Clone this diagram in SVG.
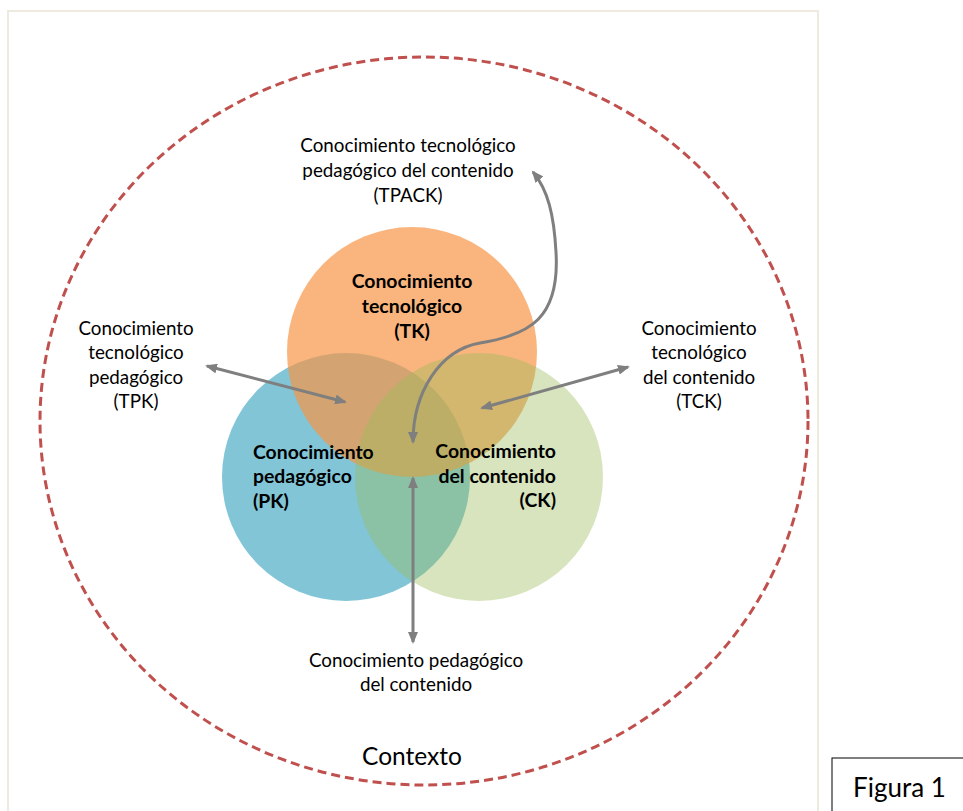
<svg xmlns="http://www.w3.org/2000/svg" width="963" height="811" viewBox="0 0 963 811">
<defs>
<style>
.t{font-family:Lato,"Open Sans","Liberation Sans",sans-serif;font-size:18.8px;fill:#000}
.b{font-weight:bold;font-size:19.4px}
.c{text-anchor:middle}
.conn{fill:none;stroke:#7F7F7F;stroke-width:3}
</style>
<marker id="ah" viewBox="0 0 12 10" refX="10" refY="5" markerWidth="12" markerHeight="10" markerUnits="userSpaceOnUse" orient="auto-start-reverse">
<path d="M0,0 L12,5 L0,10 z" fill="#7F7F7F"/>
</marker>
</defs>
<rect width="963" height="811" fill="#fff"/>
<rect x="8" y="11" width="810" height="830" fill="none" stroke="#EEEAE0" stroke-width="2"/>
<g id="contexto">
<ellipse cx="424" cy="421" rx="384" ry="364" fill="none" stroke="#C0504D" stroke-width="3" stroke-dasharray="9 5"/>
<text class="t c" x="412" y="765" style="font-size:24.5px">Contexto</text>
</g>
<g id="pk">
<circle cx="346" cy="477" r="124" fill="#4BACC6" fill-opacity="0.7"/>
</g>
<g id="tk">
<circle cx="412" cy="352" r="125" fill="#F79646" fill-opacity="0.7"/>
</g>
<g id="ck">
<circle cx="479" cy="477" r="124" fill="#9BBB59" fill-opacity="0.4"/>
</g>
<g id="tk-label">
<text class="t b c" x="412" y="288">Conocimiento</text>
<text class="t b c" x="412" y="313">tecnológico</text>
<text class="t b c" x="412" y="338">(TK)</text>
</g>
<g id="pk-label">
<text class="t b" x="253" y="459">Conocimiento</text>
<text class="t b" x="253" y="483">pedagógico</text>
<text class="t b" x="253" y="508">(PK)</text>
</g>
<g id="ck-label">
<text class="t b" x="556" y="458" text-anchor="end">Conocimiento</text>
<text class="t b" x="556" y="483" text-anchor="end">del contenido</text>
<text class="t b" x="556" y="507" text-anchor="end">(CK)</text>
</g>
<g id="tpack">
<text class="t c" x="408" y="152">Conocimiento tecnológico</text>
<text class="t c" x="408" y="177">pedagógico del contenido</text>
<text class="t c" x="408" y="202">(TPACK)</text>
</g>
<g id="tpk">
<text class="t c" x="136" y="335">Conocimiento</text>
<text class="t c" x="136" y="359">tecnológico</text>
<text class="t c" x="136" y="384">pedagógico</text>
<text class="t c" x="136" y="408">(TPK)</text>
</g>
<g id="tck">
<text class="t c" x="699" y="335">Conocimiento</text>
<text class="t c" x="699" y="359">tecnológico</text>
<text class="t c" x="699" y="384">del contenido</text>
<text class="t c" x="699" y="408">(TCK)</text>
</g>
<g id="pck">
<text class="t c" x="416" y="667">Conocimiento pedagógico</text>
<text class="t c" x="416" y="691">del contenido</text>
</g>
<g id="connectors">
<path class="conn" d="M207,366 L345,402" marker-start="url(#ah)" marker-end="url(#ah)"/>
<path class="conn" d="M482,408 L628,367" marker-start="url(#ah)" marker-end="url(#ah)"/>
<path class="conn" d="M413,478 L413,642" marker-start="url(#ah)" marker-end="url(#ah)"/>
<path class="conn" d="M413,442 C413,392 440,350 480,343 C530,335 560,318 556,252 C554,215 548,190 533,172" marker-start="url(#ah)" marker-end="url(#ah)"/>
</g>
<g id="figura">
<rect x="832" y="758" width="140" height="60" fill="#fff" stroke="#000" stroke-width="1"/>
<text class="t" x="853" y="797" style="font-size:26px">Figura 1</text>
</g>
</svg>
